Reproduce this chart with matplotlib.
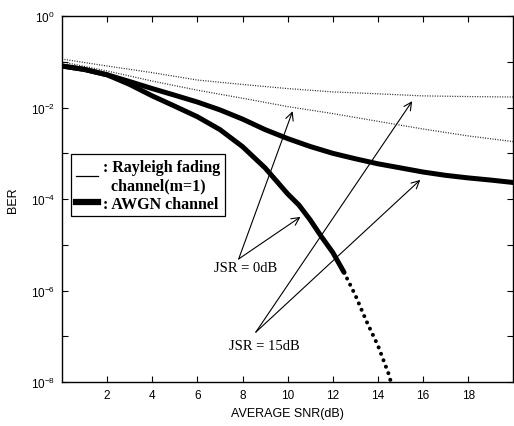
import math

import matplotlib
matplotlib.use("Agg")
import matplotlib.pyplot as plt
from matplotlib.lines import Line2D
from matplotlib.ticker import FixedLocator, FuncFormatter, NullLocator

# average SNR grid (dB) and BER read for each curve
SNR_RAYLEIGH = [0, 2, 4, 6, 8, 10, 12, 14, 16, 18, 20]
BER_RAYLEIGH_15DB = [1.15e-1, 8.1e-2, 5.8e-2, 4.0e-2, 3.2e-2, 2.6e-2,
                     2.2e-2, 2.0e-2, 1.8e-2, 1.74e-2, 1.7e-2]
BER_RAYLEIGH_0DB = [1.0e-1, 6.3e-2, 3.8e-2, 2.4e-2, 1.6e-2, 1.05e-2,
                    7.4e-3, 5.0e-3, 3.4e-3, 2.4e-3, 1.8e-3]

SNR_AWGN_15DB = list(range(0, 21))
BER_AWGN_15DB = [8.1e-2, 6.8e-2, 5.2e-2, 3.7e-2, 2.6e-2, 1.86e-2, 1.32e-2,
                 8.9e-3, 5.6e-3, 3.3e-3, 2.1e-3, 1.41e-3, 1.0e-3, 7.6e-4,
                 5.9e-4, 4.8e-4, 3.9e-4, 3.3e-4, 2.9e-4, 2.6e-4, 2.3e-4]

SNR_AWGN_0DB = [0, 1, 2, 3, 4, 5, 6, 7, 8, 9, 9.5, 10, 10.5, 11, 11.5,
                12, 12.5, 13, 13.5, 14, 14.5, 14.6]
BER_AWGN_0DB = [8.1e-2, 6.8e-2, 5.2e-2, 3.2e-2, 1.8e-2, 1.07e-2, 6.3e-3,
                3.3e-3, 1.4e-3, 4.8e-4, 2.5e-4, 1.3e-4, 7.4e-5, 3.5e-5,
                1.5e-5, 6.8e-6, 2.5e-6, 7.9e-7, 2.1e-7, 6.3e-8, 1.4e-8, 8.9e-9]
DOTTED_FROM = 16  # index where the steep tail is drawn as dots

X_TICKS = [2, 4, 6, 8, 10, 12, 14, 16, 18]
Y_DECADES = [-8, -7, -6, -5, -4, -3, -2, -1, 0]

# (label, text position, arrow targets, arrow start) in (SNR, BER)
JSR_NOTES = [
    ("JSR = 0dB", (8.14, 10 ** -5.49), [(10.22, 10 ** -2.08), (10.57, 10 ** -4.39)],
     (7.83, 10 ** -5.31)),
    ("JSR = 15dB", (8.98, 10 ** -7.21), [(15.52, 10 ** -1.86), (15.88, 10 ** -3.58)],
     (8.59, 10 ** -6.91)),
]

SANS = ["Liberation Sans", "DejaVu Sans"]
SERIF = ["Liberation Serif", "DejaVu Serif"]


def configure_plot_style():
    plt.rcParams.update(
        {
            "font.family": SANS,
            "font.size": 8.5,
            "mathtext.fontset": "custom",
            "mathtext.rm": "Liberation Sans",
            "mathtext.it": "Liberation Sans",
            "xtick.direction": "in",
            "ytick.direction": "in",
            "xtick.top": True,
            "ytick.right": True,
            "xtick.major.size": 4,
            "ytick.major.size": 4,
            "axes.linewidth": 1.0,
        }
    )


def decade_label(value, pos):
    exp = int(round(math.log10(value)))
    if exp % 2:
        return ""
    return r"$10^{%d}$" % exp


def main():
    configure_plot_style()
    fig = plt.figure(figsize=(5.14, 4.27), dpi=100)
    ax = fig.add_axes([0.1206, 0.103, 0.878, 0.857])

    ax.semilogy(SNR_RAYLEIGH, BER_RAYLEIGH_15DB, color="#222222", linestyle=(0, (0.8, 1.2)),
                linewidth=0.9)
    ax.semilogy(SNR_RAYLEIGH, BER_RAYLEIGH_0DB, color="#222222", linestyle=(0, (0.8, 1.2)),
                linewidth=0.9)
    ax.semilogy(SNR_AWGN_15DB, BER_AWGN_15DB, color="black", linewidth=3.6,
                solid_capstyle="round", solid_joinstyle="round")
    ax.semilogy(SNR_AWGN_0DB[:DOTTED_FROM + 1], BER_AWGN_0DB[:DOTTED_FROM + 1],
                color="black", linewidth=3.6, solid_capstyle="round", solid_joinstyle="round")
    ax.semilogy(SNR_AWGN_0DB[DOTTED_FROM:], BER_AWGN_0DB[DOTTED_FROM:], color="black",
                linewidth=2.9, linestyle=(0, (0.01, 1.7)), dash_capstyle="round")

    ax.set_xlim(0, 20)
    ax.set_ylim(1e-8, 1)
    ax.xaxis.set_major_locator(FixedLocator(X_TICKS))
    ax.yaxis.set_major_locator(FixedLocator([10.0 ** d for d in Y_DECADES]))
    ax.yaxis.set_minor_locator(NullLocator())
    ax.yaxis.set_major_formatter(FuncFormatter(decade_label))
    ax.tick_params(labelsize=8.5, pad=5)

    ax.set_xlabel("AVERAGE SNR(dB)", fontsize=9, labelpad=4)
    ax.set_ylabel("BER", fontsize=9, labelpad=8)

    # JSR annotations with arrows pointing at the curves
    for text, text_xy, targets, start in JSR_NOTES:
        ax.text(*text_xy, text, family=SERIF, fontsize=10.5, ha="center", va="center")
        for target in targets:
            ax.annotate("", xy=target, xytext=start,
                        arrowprops=dict(arrowstyle="->", color="black", lw=0.8,
                                        shrinkA=0, shrinkB=0, mutation_scale=14))

    handles = [
        Line2D([], [], color="black", linewidth=0.9),
        Line2D([], [], color="black", linewidth=4.5),
    ]
    labels = [": Rayleigh fading\n  channel(m=1)", ": AWGN channel"]
    leg = ax.legend(handles, labels, loc="upper left", bbox_to_anchor=(0.02, 0.623),
                    borderaxespad=0, fancybox=False, edgecolor="black", framealpha=1,
                    handlelength=1.4, handletextpad=0.3, borderpad=0.3, labelspacing=0.15,
                    prop={"family": SERIF, "weight": "bold", "size": 11.5})
    leg.get_frame().set_linewidth(0.9)

    fig.savefig("out.png", dpi=100)
    plt.close(fig)


if __name__ == "__main__":
    main()
